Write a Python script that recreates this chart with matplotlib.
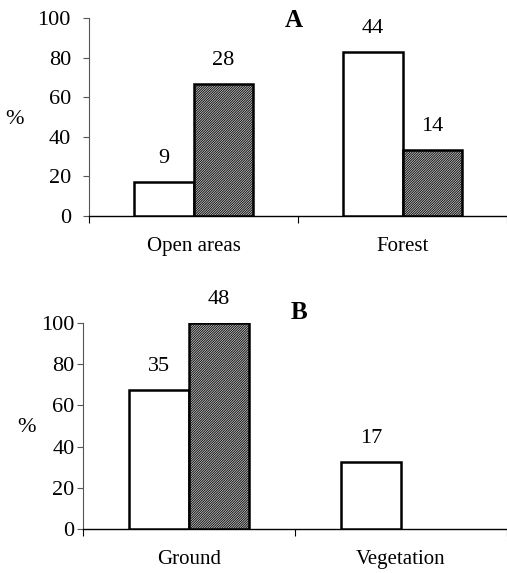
import matplotlib
matplotlib.use("Agg")
import matplotlib.pyplot as plt

plt.rcParams['font.family'] = ['Liberation Serif', 'DejaVu Serif']
plt.rcParams['hatch.linewidth'] = 0.6

# panel A: habitat
cats_a = ["Open areas", "Forest"]
counts_a_white = [9, 44]
counts_a_hatch = [28, 14]
pct_a_white = [17.0, 83.0]
pct_a_hatch = [66.7, 33.3]

# panel B: substrate
cats_b = ["Ground", "Vegetation"]
counts_b_white = [35, 17]
counts_b_hatch = [48, None]
pct_b_white = [67.3, 32.7]
pct_b_hatch = [100.0, 0.0]

yticks = [0, 20, 40, 60, 80, 100]
W, H = 507, 573
fig = plt.figure(figsize=(W / 100, H / 100), dpi=100)

bw = 0.285


def draw_panel(ax, cats, pw, ph, cw, ch, letter, letter_xy, xmax, ypad):
    x = list(range(len(cats)))
    xw = [i - bw / 2 for i in x]
    xh = [i + bw / 2 for i in x]
    ax.bar(xw, pw, width=bw, color='white', edgecolor='black', linewidth=1.8, zorder=3)
    for xi, p, c in zip(xh, ph, ch):
        if c is None:
            continue
        ax.bar(xi, p, width=bw, color='#c8c8c8', edgecolor='black',
               hatch='/' * 14, linewidth=1.8, zorder=3)
    for xi, p, c in zip(xw, pw, cw):
        ax.annotate(str(c), (xi, p), xytext=(0, 10), textcoords='offset points',
                    ha='center', va='bottom', fontsize=16)
    for xi, p, c in zip(xh, ph, ch):
        if c is None:
            continue
        ax.annotate(str(c), (xi, p), xytext=(0, 10), textcoords='offset points',
                    ha='center', va='bottom', fontsize=16)
    ax.set_xlim(-0.5, xmax)
    ax.set_ylim(0, 100)
    ax.set_yticks(yticks)
    ax.tick_params(axis='y', labelsize=16, length=4, width=0.8, pad=ypad, color='#555555')
    ax.set_xticks([-0.5, 0.5, 1.5])
    ax.set_xticklabels([])
    ax.set_xticks(x, minor=True)
    ax.set_xticklabels(cats, minor=True)
    ax.tick_params(axis='x', which='major', length=5, width=0.8, direction='out')
    ax.tick_params(axis='x', which='minor', length=0, labelsize=15, pad=15)
    for s in ['top', 'right']:
        ax.spines[s].set_visible(False)
    ax.spines['left'].set_color('#555555')
    ax.spines['left'].set_linewidth(0.8)
    ax.spines['bottom'].set_linewidth(1.0)
    ax.text(letter_xy[0], letter_xy[1], letter, ha='center', va='center',
            fontsize=18, fontweight='bold')


ax1 = fig.add_axes([89 / W, 1 - 216 / H, (W - 89) / W, 198 / H])
draw_panel(ax1, cats_a, pct_a_white, pct_a_hatch, counts_a_white, counts_a_hatch,
           "A", (0.48, 98.5), 1.5, 9)
fig.text(15 / W, 1 - 120 / H, "%", ha='center', va='center', fontsize=16)

ax2 = fig.add_axes([83 / W, 1 - 529 / H, (W - 83) / W, 206 / H])
draw_panel(ax2, cats_b, pct_b_white, pct_b_hatch, counts_b_white, counts_b_hatch,
           "B", (0.52, 105), 0.5 + (W - 298) / 215, 2)
fig.text(27 / W, 1 - 427 / H, "%", ha='center', va='center', fontsize=16)

fig.savefig("out.png", dpi=100)
